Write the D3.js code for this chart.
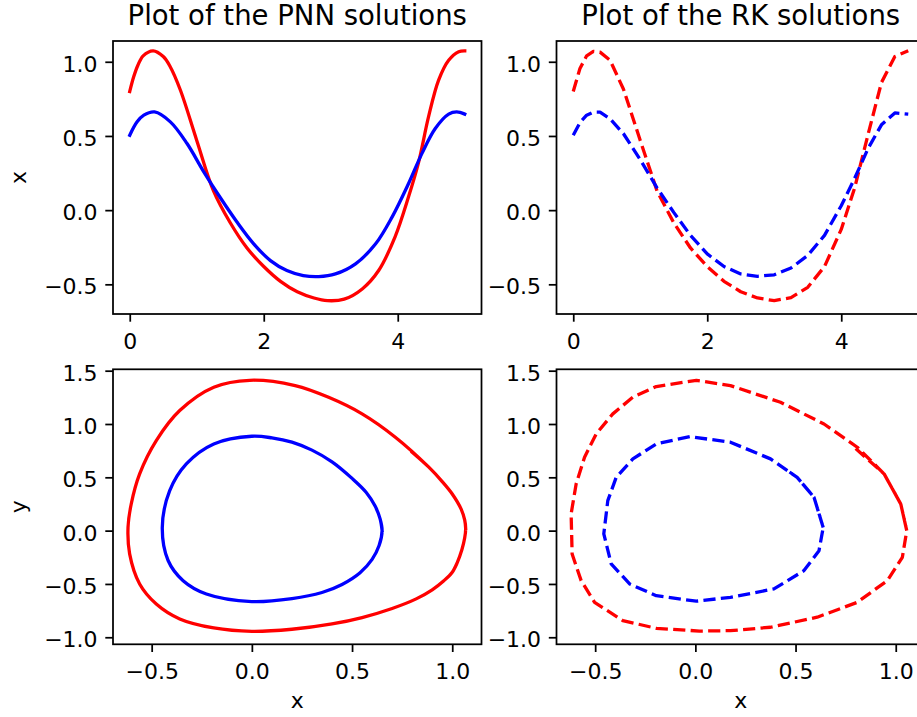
<!DOCTYPE html>
<html><head><meta charset="utf-8">
<script src="https://cdn.jsdelivr.net/npm/d3@7"></script>
<style>
body{margin:0;background:#fff;overflow:hidden}
svg{display:block}
text{font-family:"DejaVu Sans",sans-serif;fill:#000}
</style>
</head><body>
<svg id="chart" width="917" height="717"></svg>
<script>
// ---------------- data ----------------
const titles = ["Plot of the PNN solutions", "Plot of the RK solutions"];
const topXTicks = [0, 2, 4];
const topYTicks = [-0.5, 0.0, 0.5, 1.0];
const botXTicks = [-0.5, 0.0, 0.5, 1.0];
const botYTicks = [-1.0, -0.5, 0.0, 0.5, 1.0, 1.5];

// PNN time series x(t)
const pnnRedT = [0, 0.06, 0.12, 0.2, 0.35, 0.5, 0.6, 0.755, 1.0, 1.25, 1.5, 1.75, 2.0, 2.25, 2.5, 2.75, 2.95, 3.2, 3.47, 3.715, 3.96, 4.16, 4.31, 4.46, 4.61, 4.76, 4.91, 5.0];
const pnnRedX = [0.80, 0.90, 0.975, 1.04, 1.074, 1.035, 0.97, 0.81, 0.47, 0.13, -0.085, -0.255, -0.38, -0.48, -0.55, -0.592, -0.61, -0.60, -0.531, -0.407, -0.18, 0.088, 0.32, 0.63, 0.876, 1.01, 1.068, 1.074];
const pnnBlueT = [0, 0.11, 0.21, 0.37, 0.606, 0.855, 1.1, 1.35, 1.6, 1.85, 2.1, 2.345, 2.59, 2.82, 3.07, 3.37, 3.67, 3.915, 4.16, 4.36, 4.56, 4.76, 4.88, 5.0];
const pnnBlueX = [0.505, 0.595, 0.64, 0.662, 0.595, 0.449, 0.262, 0.085, -0.08, -0.227, -0.34, -0.407, -0.441, -0.448, -0.43, -0.362, -0.227, -0.047, 0.178, 0.381, 0.55, 0.647, 0.662, 0.647];

// RK time series x(t)
const rkT = [0, 0.1, 0.2, 0.3, 0.4, 0.55, 0.75, 1.0, 1.25, 1.5, 1.75, 2.0, 2.25, 2.5, 2.75, 3.0, 3.25, 3.5, 3.75, 4.0, 4.2, 4.4, 4.6, 4.8, 5.0];
const rkRedX = [0.80, 0.955, 1.04, 1.07, 1.065, 1.01, 0.815, 0.47, 0.13, -0.085, -0.255, -0.38, -0.48, -0.55, -0.592, -0.61, -0.59, -0.52, -0.38, -0.13, 0.15, 0.51, 0.86, 1.035, 1.074];
const rkBlueX = [0.505, 0.59, 0.64, 0.66, 0.66, 0.615, 0.515, 0.34, 0.15, -0.015, -0.17, -0.295, -0.38, -0.43, -0.446, -0.436, -0.39, -0.305, -0.17, 0.03, 0.215, 0.415, 0.575, 0.655, 0.647];

// PNN phase portraits (x, y), in time order
const pnnRedPX = [0.80, 0.883, 0.95, 1.0, 1.045, 1.062, 1.067, 1.062, 1.048, 1.025, 1.0, 0.958, 0.9, 0.82, 0.7, 0.55, 0.4, 0.2, 0.0, -0.19, -0.36, -0.477, -0.56, -0.61, -0.618, -0.602, -0.56, -0.477, -0.36, -0.19, -0.01, 0.216, 0.383, 0.55, 0.716, 0.883, 0.95, 1.0, 1.045, 1.062, 1.067];
const pnnRedPY = [0.735, 0.595, 0.46, 0.344, 0.20, 0.10, 0.02, -0.07, -0.18, -0.30, -0.39, -0.47, -0.555, -0.64, -0.73, -0.815, -0.875, -0.925, -0.945, -0.913, -0.828, -0.688, -0.5, -0.218, 0.03, 0.25, 0.532, 0.844, 1.126, 1.345, 1.41, 1.36, 1.25, 1.095, 0.876, 0.595, 0.46, 0.344, 0.20, 0.10, 0.02];
const pnnBluePX = [0.50, 0.57, 0.615, 0.64, 0.65, 0.635, 0.60, 0.54, 0.45, 0.35, 0.2, 0.0, -0.227, -0.343, -0.418, -0.447, -0.41, -0.327, -0.19, 0.0, 0.1, 0.2, 0.3, 0.4, 0.5, 0.57, 0.615, 0.64, 0.65];
const pnnBluePY = [0.49, 0.36, 0.23, 0.11, 0.0, -0.14, -0.27, -0.395, -0.505, -0.58, -0.637, -0.665, -0.594, -0.469, -0.28, 0.03, 0.375, 0.626, 0.813, 0.885, 0.87, 0.83, 0.755, 0.645, 0.49, 0.36, 0.23, 0.11, 0.0];

// RK phase portraits (x, y), in time order
const rkRedPX = [0.80, 0.942, 1.025, 1.055, 1.033, 0.958, 0.808, 0.608, 0.375, 0.175, 0.02, -0.195, -0.362, -0.503, -0.57, -0.615, -0.62, -0.595, -0.553, -0.495, -0.412, -0.312, -0.195, 0.005, 0.175, 0.425, 0.642, 0.808, 0.942, 1.025, 1.055];
const rkRedPY = [0.77, 0.532, 0.25, 0.0, -0.25, -0.469, -0.672, -0.812, -0.906, -0.938, -0.942, -0.916, -0.844, -0.672, -0.469, -0.219, 0.157, 0.438, 0.688, 0.907, 1.095, 1.251, 1.351, 1.41, 1.36, 1.204, 1.0, 0.782, 0.532, 0.25, 0.0];
const rkBluePX = [0.47, 0.508, 0.592, 0.638, 0.617, 0.542, 0.392, 0.175, 0.005, -0.195, -0.328, -0.42, -0.457, -0.437, -0.395, -0.312, -0.195, -0.028, 0.175, 0.375, 0.508, 0.592, 0.638];
const rkBluePY = [0.55, 0.5, 0.313, 0.03, -0.188, -0.375, -0.547, -0.625, -0.662, -0.61, -0.5, -0.312, -0.03, 0.281, 0.5, 0.673, 0.813, 0.882, 0.829, 0.673, 0.5, 0.313, 0.03];

const colors = {red: "#ff0000", blue: "#0000ff"};

// ---------------- drawing ----------------
const svg = d3.select("#chart");
const TICK = 22, TITLE = 27.5, LW = 3.3, TL = 7.7, PAD = 7.7, SPINE = 1.75;
const fmt1 = v => d3.format(".1f")(v).replace("-", "\u2212");
const fmt0 = v => d3.format("d")(v).replace("-", "\u2212");
let clipId = 0;

function panel(o) {
  const x = d3.scaleLinear().domain(o.xDomain).range([o.left, o.left + o.width]);
  const y = d3.scaleLinear().domain(o.yDomain).range([o.top + o.height, o.top]);
  const g = svg.append("g");
  const id = "clip" + (clipId++);
  g.append("clipPath").attr("id", id).append("rect")
    .attr("x", o.left).attr("y", o.top).attr("width", o.width).attr("height", o.height);

  const lines = g.append("g").attr("clip-path", `url(#${id})`);
  o.series.forEach(s => {
    const pts = s.xs.map((v, i) => [v, s.ys[i]]);
    lines.append("path")
      .attr("d", d3.line().x(d => x(d[0])).y(d => y(d[1])).curve(s.curve)(pts))
      .attr("fill", "none").attr("stroke", s.color).attr("stroke-width", LW)
      .attr("stroke-linejoin", "round")
      .attr("stroke-linecap", o.dashed ? "butt" : "square")
      .attr("stroke-dasharray", o.dashed ? "12.2,5.3" : null);
  });

  // frame
  g.append("rect").attr("x", o.left).attr("y", o.top).attr("width", o.width).attr("height", o.height)
    .attr("fill", "none").attr("stroke", "#000").attr("stroke-width", SPINE);

  // x axis
  const xa = g.append("g").attr("transform", `translate(0,${o.top + o.height})`)
    .call(d3.axisBottom(x).tickValues(o.xTicks).tickFormat(o.xFmt).tickSizeInner(TL).tickSizeOuter(0).tickPadding(PAD));
  xa.select(".domain").remove();
  xa.selectAll(".tick line").attr("stroke", "#000").attr("stroke-width", SPINE);
  xa.selectAll(".tick text").attr("font-size", TICK).attr("font-family", "DejaVu Sans")
    .attr("fill", "#000").attr("y", 35).attr("dy", null);

  // y axis
  const ya = g.append("g").attr("transform", `translate(${o.left},0)`)
    .call(d3.axisLeft(y).tickValues(o.yTicks).tickFormat(fmt1).tickSizeInner(TL).tickSizeOuter(0).tickPadding(PAD));
  ya.select(".domain").remove();
  ya.selectAll(".tick line").attr("stroke", "#000").attr("stroke-width", SPINE);
  ya.selectAll(".tick text").attr("font-size", TICK).attr("font-family", "DejaVu Sans")
    .attr("fill", "#000").attr("dy", "9.5px");

  if (o.title) {
    g.append("text").attr("x", o.left + o.width / 2).attr("y", o.top - 16)
      .attr("text-anchor", "middle").attr("font-size", TITLE).text(o.title);
  }
  if (o.xLabel) {
    g.append("text").attr("x", o.left + o.width / 2).attr("y", o.top + o.height + 63.5)
      .attr("text-anchor", "middle").attr("font-size", TICK).text(o.xLabel);
  }
  if (o.yLabel) {
    g.append("text").attr("transform", `translate(26,${o.top + o.height / 2}) rotate(-90)`)
      .attr("text-anchor", "middle").attr("font-size", TICK).text(o.yLabel);
  }
}

const smooth = d3.curveCatmullRom.alpha(0.5);
const straight = d3.curveLinear;
const leftCol = 113, rightCol = 556.5, W = 368.5;
const topRow = {top: 41, height: 273, xDomain: [-0.25, 5.25], yDomain: [-0.70, 1.14]};
const botRow = {top: 369.3, height: 275, xDomain: [-0.693, 1.146], yDomain: [-1.066, 1.513]};

panel({...topRow, left: leftCol, width: W, xTicks: topXTicks, yTicks: topYTicks, xFmt: fmt0,
  title: titles[0], yLabel: "x", dashed: false,
  series: [{xs: pnnRedT, ys: pnnRedX, color: colors.red, curve: smooth},
           {xs: pnnBlueT, ys: pnnBlueX, color: colors.blue, curve: smooth}]});
panel({...topRow, left: rightCol, width: W, xTicks: topXTicks, yTicks: topYTicks, xFmt: fmt0,
  title: titles[1], dashed: true,
  series: [{xs: rkT, ys: rkRedX, color: colors.red, curve: straight},
           {xs: rkT, ys: rkBlueX, color: colors.blue, curve: straight}]});
panel({...botRow, left: leftCol, width: W, xTicks: botXTicks, yTicks: botYTicks, xFmt: fmt1,
  xLabel: "x", yLabel: "y", dashed: false,
  series: [{xs: pnnRedPX, ys: pnnRedPY, color: colors.red, curve: smooth},
           {xs: pnnBluePX, ys: pnnBluePY, color: colors.blue, curve: smooth}]});
panel({...botRow, left: rightCol, width: W, xTicks: botXTicks, yTicks: botYTicks, xFmt: fmt1,
  xLabel: "x", dashed: true,
  series: [{xs: rkRedPX, ys: rkRedPY, color: colors.red, curve: straight},
           {xs: rkBluePX, ys: rkBluePY, color: colors.blue, curve: straight}]});
</script>
</body></html>
